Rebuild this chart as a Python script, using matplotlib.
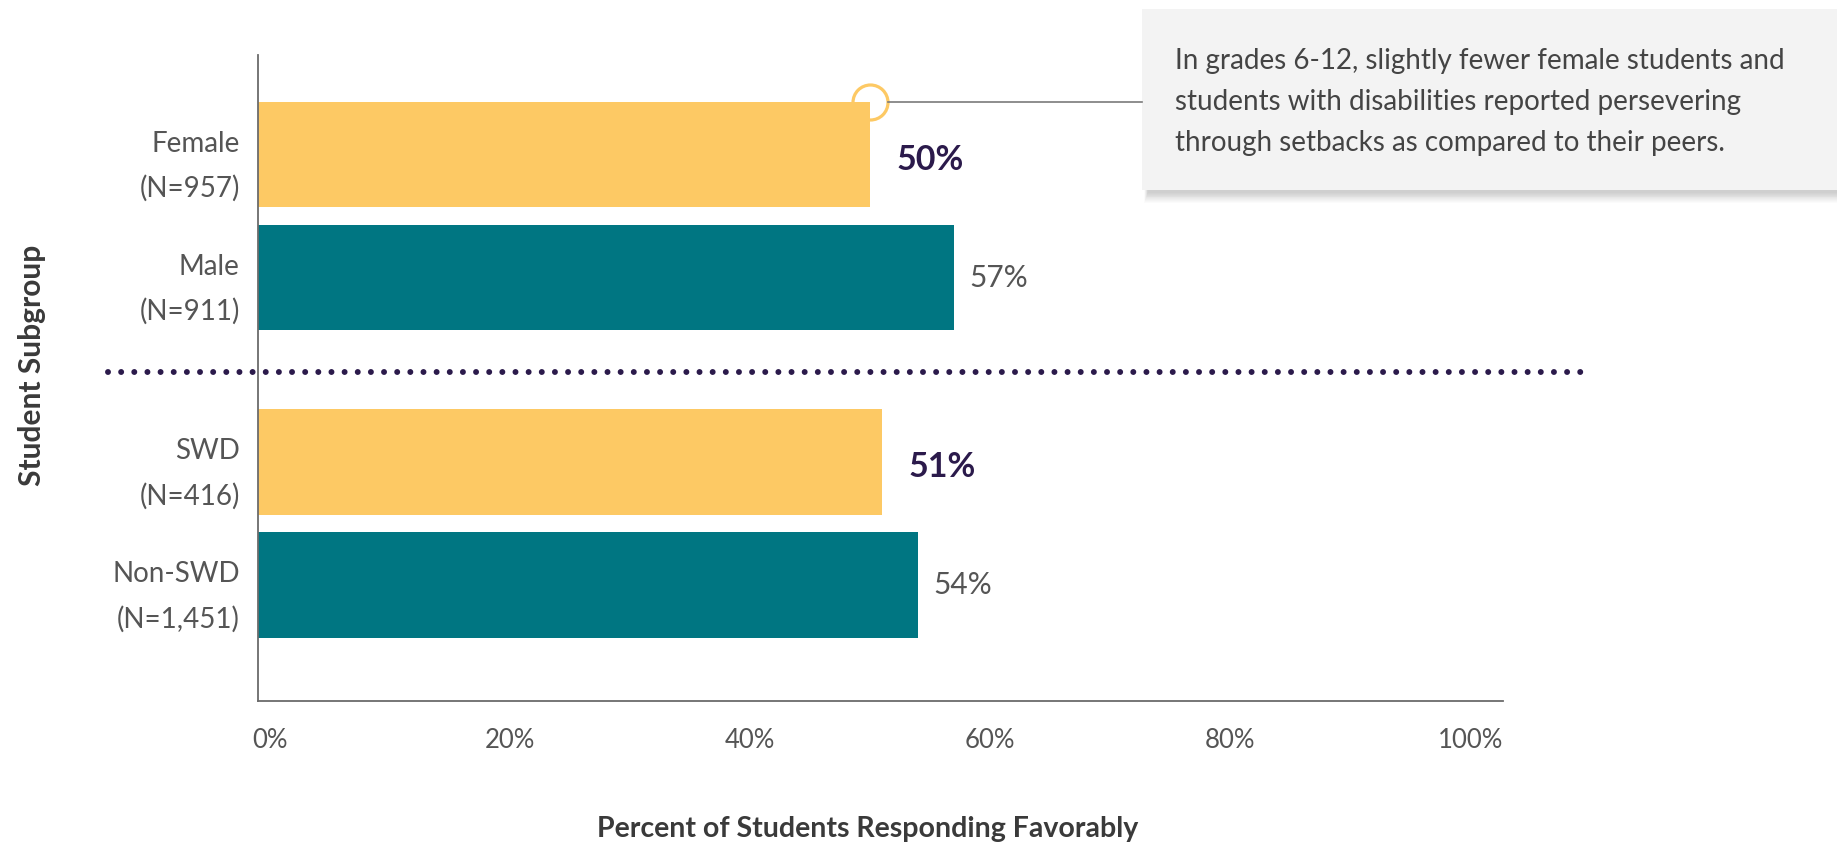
import matplotlib
matplotlib.use("Agg")
import matplotlib.pyplot as plt
from matplotlib.patches import Rectangle
from matplotlib.lines import Line2D
import numpy as np

# ---- data ----
groups = ["Female", "Male", "SWD", "Non-SWD"]
counts = ["957", "911", "416", "1,451"]
values = [50, 57, 51, 54]
highlight = [True, False, True, False]
positions = [0.0, 1.0, 2.5, 3.5]
xticks = [0, 20, 40, 60, 80, 100]
callout = ("In grades 6-12, slightly fewer female students and\n"
           "students with disabilities reported persevering\n"
           "through setbacks as compared to their peers.")

# ---- style ----
YELLOW = "#FDC964"
TEAL = "#007682"
PURPLE = "#2B1A4B"
GREY_TXT = "#555555"
AXIS = "#6b6b6b"
FONT = ["Lato", "DejaVu Sans"]
plt.rcParams["font.family"] = FONT

W, H = 1837, 842
fig = plt.figure(figsize=(W / 100, H / 100), dpi=100)
ax = fig.add_axes([257.8 / W, 1 - 700.6 / H, (1503 - 257.8) / W, (700.6 - 55) / H])

XMIN, XMAX = -1.0, 102.7
ax.set_xlim(XMIN, XMAX)
ax.set_ylim(4.44, -0.81)

bar_h = 0.857
colors = [YELLOW if h else TEAL for h in highlight]
vals = np.array(values, dtype=float)
ax.barh(positions, vals - XMIN, left=XMIN, height=bar_h, color=colors, zorder=2)

# value labels
for y, v, h in zip(positions, values, highlight):
    if h:
        ax.text(v + 2.2, y + 0.04, f"{v}%", va="center", ha="left",
                fontsize=24.5, fontweight="bold", color=PURPLE)
    else:
        ax.text(v + 1.3, y, f"{v}%", va="center", ha="left",
                fontsize=21.5, color=GREY_TXT)

# category labels
ax.set_yticks(positions)
ax.set_yticklabels([f"{g}\n(N={n})" for g, n in zip(groups, counts)],
                   fontsize=20, color=GREY_TXT, linespacing=1.85)
ax.tick_params(axis="y", length=0, pad=13)

ax.set_xticks(xticks)
ax.set_xticklabels([f"{t}%" for t in xticks], fontsize=18.5, color=GREY_TXT)
ax.tick_params(axis="x", length=0, pad=20)

for s in ["top", "right"]:
    ax.spines[s].set_visible(False)
for s in ["left", "bottom"]:
    ax.spines[s].set_color(AXIS)
    ax.spines[s].set_linewidth(1.3)

ax.set_ylabel("Student Subgroup", fontsize=21.5, fontweight="bold", color="#3a3a3a",
              labelpad=0)
ax.yaxis.set_label_coords(-0.170, 0.52)
ax.set_xlabel("Percent of Students Responding Favorably", fontsize=20.5,
              fontweight="bold", color="#3a3a3a")
ax.xaxis.set_label_coords(0.49, -0.178)

# dotted separator between the two comparisons
sep_y = 1.77
ax.plot([-13.5, 109.5], [sep_y, sep_y], color=PURPLE, lw=4.3,
        linestyle=(0, (0.001, 2.2)), dash_capstyle="round",
        solid_capstyle="round", clip_on=False, zorder=3)

# callout box with soft shadow
bx0, by0, bx1, by1 = 1142, 9, 1850, 190  # pixel box (top-left origin)
def fig_rect(x0, y0, x1, y1, **kw):
    return Rectangle((x0 / W, 1 - y1 / H), (x1 - x0) / W, (y1 - y0) / H,
                     transform=fig.transFigure, **kw)

for i in range(12, 0, -1):
    fig.patches.append(fig_rect(bx0 + 6 - i * 0.3, by0 + 8 + i * 0.2,
                                bx1, by1 + 2 + i * 0.9,
                                facecolor="black", edgecolor="none",
                                alpha=0.016, zorder=0))
fig.patches.append(fig_rect(bx0, by0, bx1, by1, facecolor="#F3F3F3",
                            edgecolor="none", zorder=1))
fig.text(1175 / W, 1 - 102 / H, callout, fontsize=20, color="#444444",
         va="center", ha="left", linespacing=1.72, zorder=2)

# marker and leader line from the Female bar to the callout
fem = 0
cx, cy = values[fem], positions[fem] - bar_h / 2
px, py = ax.transData.transform((cx, cy))
r_px = 17.5
ax.plot([cx], [cy], marker="o", ms=2 * r_px * 0.72, mfc="none", mec=YELLOW,
        mew=2.3, clip_on=False, zorder=4)
fig.lines.append(Line2D([(px + r_px) / W, bx0 / W], [py / H, py / H],
                        transform=fig.transFigure, color="#7a7a7a", lw=1.2,
                        zorder=3))

fig.savefig("out.png", dpi=100, facecolor="white")
